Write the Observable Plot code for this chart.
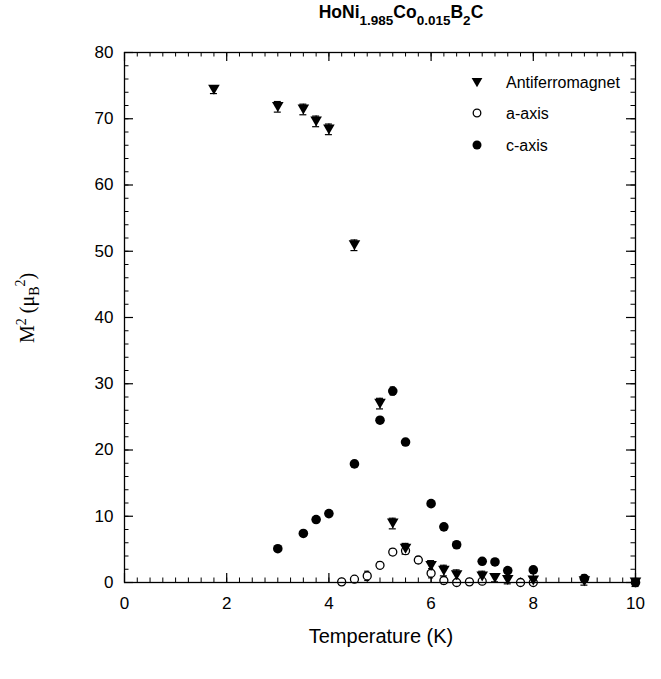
<!DOCTYPE html>
<html><head><meta charset="utf-8">
<script src="https://cdn.jsdelivr.net/npm/d3@7"></script>
<script src="https://cdn.jsdelivr.net/npm/@observablehq/plot@0.6"></script>
<style>body{margin:0;background:#fff}</style>
</head><body><div id="chart"></div>
<script>
// Antiferromagnet (filled down-triangles)
const afmT = [1.75, 3, 3.5, 3.75, 4, 4.5, 5, 5.25, 5.5, 6, 6.25, 6.5, 7, 7.25, 7.5, 8, 9, 10];
const afmM = [74.4, 71.8, 71.4, 69.6, 68.4, 50.9, 27.0, 8.9, 5.1, 2.5, 1.8, 1.1, 0.9, 0.7, 0.4, 0.3, 0.2, 0.0];
const afmE = [0.6, 0.8, 0.8, 0.8, 0.8, 0.8, 0.8, 0.8, 0.8, 0.8, 0.8, 0.8, 0.8, 0.6, 0.6, 0.6, 0.6, 0.6];
// a-axis (open circles)
const aT = [4.25, 4.5, 4.75, 5, 5.25, 5.5, 5.75, 6, 6.25, 6.5, 6.75, 7, 7.75, 8];
const aM = [0.1, 0.5, 1.0, 2.6, 4.6, 4.8, 3.4, 1.4, 0.3, 0.0, 0.1, 0.2, 0.0, 0.0];
const aE = [0.3, 0.3, 0.7, 0.5, 0.5, 0.5, 0.5, 0.7, 0.5, 0.3, 0.3, 0.3, 0.3, 0.3];
// c-axis (filled circles)
const cT = [3, 3.5, 3.75, 4, 4.5, 5, 5.25, 5.5, 6, 6.25, 6.5, 7, 7.25, 7.5, 8, 9, 10];
const cM = [5.1, 7.4, 9.5, 10.4, 17.9, 24.5, 28.9, 21.2, 11.9, 8.4, 5.7, 3.2, 3.1, 1.8, 1.9, 0.6, 0.0];
const cE = [0.4, 0.4, 0.4, 0.4, 0.4, 0.4, 0.6, 0.4, 0.4, 0.4, 0.4, 0.4, 0.4, 0.4, 0.4, 0.6, 0.4];

const xTicks = [0, 2, 4, 6, 8, 10];
const yTicks = [0, 10, 20, 30, 40, 50, 60, 70, 80];
const xMinor = d3.range(0, 10.001, 0.25);
const yMinor = d3.range(0, 80.001, 2);

const afm = afmT.map((t, i) => ({T: t, M: afmM[i], e: afmE[i]}));
const aax = aT.map((t, i) => ({T: t, M: aM[i], e: aE[i]}));
const cax = cT.map((t, i) => ({T: t, M: cM[i], e: cE[i]}));

const W = 661, H = 679, mL = 124, mR = 26, mT = 52, mB = 97;
const pw = W - mL - mR, ph = H - mT - mB;
const FONT = "'Liberation Sans', Arial, Helvetica, sans-serif";

function errMarks(data, cap) {
  return [
    Plot.ruleX(data, {x: "T", y1: d => d.M - d.e, y2: d => d.M + d.e, stroke: "#000", strokeWidth: 1.2}),
    Plot.ruleY(data, {y: d => d.M + d.e, x1: "T", x2: "T", insetLeft: -cap, insetRight: -cap, stroke: "#000", strokeWidth: 1.2}),
    Plot.ruleY(data, {y: d => d.M - d.e, x1: "T", x2: "T", insetLeft: -cap, insetRight: -cap, stroke: "#000", strokeWidth: 1.2})
  ];
}

const chart = Plot.plot({
  width: W, height: H,
  marginLeft: mL, marginRight: mR, marginTop: mT, marginBottom: mB,
  style: {fontFamily: FONT, background: "#fff", color: "#000"},
  x: {domain: [0, 10]},
  y: {domain: [0, 80]},
  marks: [
    // inward ticks on all four sides
    Plot.ruleX(xMinor, {x: d => d, insetTop: ph - 4.5, stroke: "#000"}),
    Plot.ruleX(xTicks, {x: d => d, insetTop: ph - 9, stroke: "#000", strokeWidth: 1.2}),
    Plot.ruleX(xMinor, {x: d => d, insetBottom: ph - 4.5, stroke: "#000"}),
    Plot.ruleX(xTicks, {x: d => d, insetBottom: ph - 9, stroke: "#000", strokeWidth: 1.2}),
    Plot.ruleY(yMinor, {y: d => d, insetRight: pw - 4.5, stroke: "#000"}),
    Plot.ruleY(yTicks, {y: d => d, insetRight: pw - 9, stroke: "#000", strokeWidth: 1.2}),
    Plot.ruleY(yMinor, {y: d => d, insetLeft: pw - 4.5, stroke: "#000"}),
    Plot.ruleY(yTicks, {y: d => d, insetLeft: pw - 9, stroke: "#000", strokeWidth: 1.2}),
    Plot.axisX({ticks: xTicks, tickSize: 0, tickPadding: 14, fontSize: 17, label: null, tickFormat: d => String(d)}),
    Plot.axisY({ticks: yTicks, tickSize: 0, tickPadding: 11, fontSize: 17, label: null, tickFormat: d => String(d)}),
    // error bars
    ...errMarks(aax, 2.5),
    ...errMarks(cax, 2.5),
    ...errMarks(afm, 3.5),
    // points
    Plot.dot(aax, {x: "T", y: "M", r: 4, stroke: "#000", strokeWidth: 1.3, fill: "#fff"}),
    Plot.dot(cax, {x: "T", y: "M", r: 4.8, fill: "#000", stroke: "none"}),
    Plot.dot(afm, {x: "T", y: "M", symbol: "triangle", rotate: 180, r: 4.3, dy: -1.6, fill: "#000", stroke: "none"}),
    Plot.frame({stroke: "#000", strokeWidth: 1.3})
  ]
});

document.getElementById("chart").appendChild(chart);
const svg = d3.select(chart);

// Title with subscripts
const title = svg.append("text")
  .attr("x", 401).attr("y", 18).attr("text-anchor", "middle")
  .attr("font-family", FONT).attr("font-weight", "bold").attr("font-size", 17.5).attr("fill", "#000");
title.append("tspan").text("HoNi");
title.append("tspan").attr("font-size", 13.5).attr("dy", 7).text("1.985");
title.append("tspan").attr("dy", -7).text("Co");
title.append("tspan").attr("font-size", 13.5).attr("dy", 7).text("0.015");
title.append("tspan").attr("dy", -7).text("B");
title.append("tspan").attr("font-size", 13.5).attr("dy", 7).text("2");
title.append("tspan").attr("dy", -7).text("C");

// X axis label
svg.append("text").attr("x", 381).attr("y", 643).attr("text-anchor", "middle")
  .attr("font-family", FONT).attr("font-size", 20).attr("fill", "#000").text("Temperature (K)");

// Y axis label (serif)
const yl = svg.append("text")
  .attr("transform", "translate(34,343) rotate(-90)")
  .attr("text-anchor", "start")
  .attr("font-family", "'Liberation Serif', 'Times New Roman', serif").attr("font-size", 20).attr("fill", "#000");
yl.append("tspan").text("M");
yl.append("tspan").attr("font-size", 14).attr("dy", -8).text("2");
yl.append("tspan").attr("dy", 8).text(" (μ");
yl.append("tspan").attr("font-size", 14).attr("dy", 5).text("B");
yl.append("tspan").attr("font-size", 14).attr("dy", -14).text("2");
yl.append("tspan").attr("dy", 9).text(")");

// Legend
const legend = [
  {label: "Antiferromagnet", y: 82, kind: "tri"},
  {label: "a-axis", y: 113, kind: "open"},
  {label: "c-axis", y: 145, kind: "fill"}
];
const lg = svg.append("g");
legend.forEach(L => {
  if (L.kind === "tri") {
    lg.append("path").attr("d", d3.symbol(d3.symbolTriangle, 50)())
      .attr("transform", `translate(477,${L.y - 1}) rotate(180)`).attr("fill", "#000");
  } else if (L.kind === "open") {
    lg.append("circle").attr("cx", 477).attr("cy", L.y).attr("r", 3.8)
      .attr("fill", "#fff").attr("stroke", "#000").attr("stroke-width", 1.3);
  } else {
    lg.append("circle").attr("cx", 477).attr("cy", L.y).attr("r", 4.5).attr("fill", "#000");
  }
  lg.append("text").attr("x", 506).attr("y", L.y).attr("dy", "0.35em").attr("text-anchor", "start")
    .attr("font-family", FONT).attr("font-size", 16).attr("fill", "#000").text(L.label);
});
</script>
</body></html>
